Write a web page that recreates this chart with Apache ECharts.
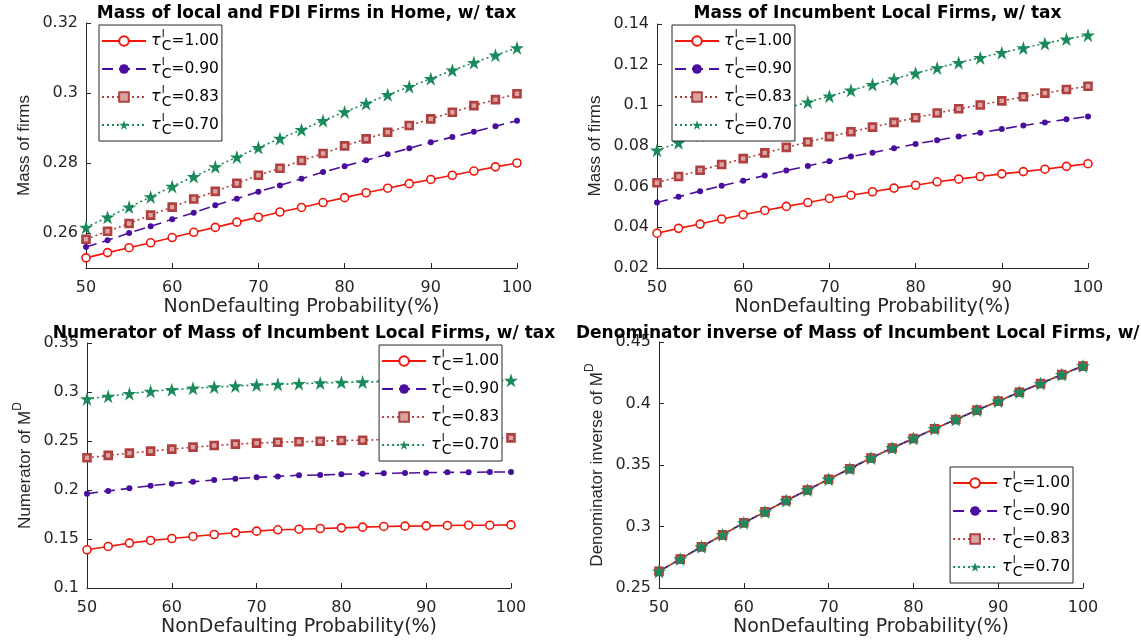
<!DOCTYPE html>
<html>
<head>
<meta charset="utf-8">
<script src="https://cdn.jsdelivr.net/npm/echarts@6/dist/echarts.min.js"></script>
<style>html,body{margin:0;padding:0;background:#fff;}#c{width:1141px;height:642px;}</style>
</head>
<body>
<div id="c"></div>
<script>
// ---------------- data ----------------
const xs = [50, 52.5, 55, 57.5, 60, 62.5, 65, 67.5, 70, 72.5, 75, 77.5, 80, 82.5, 85, 87.5, 90, 92.5, 95, 97.5, 100];
const tauLabels = ['1.00', '0.90', '0.83', '0.70'];

// Panel 1: Mass of local and FDI Firms in Home, w/ tax
const homeTau100 = [0.2529, 0.2544, 0.2558, 0.2572, 0.2587, 0.2602, 0.2616, 0.2631, 0.2645, 0.2660, 0.2673, 0.2687, 0.2701, 0.2715, 0.2728, 0.2741, 0.2753, 0.2765, 0.2777, 0.2789, 0.2800];
const homeTau090 = [0.2560, 0.2579, 0.2600, 0.2619, 0.2639, 0.2658, 0.2679, 0.2698, 0.2718, 0.2736, 0.2755, 0.2774, 0.2791, 0.2808, 0.2825, 0.2842, 0.2859, 0.2874, 0.2889, 0.2905, 0.2921];
const homeTau083 = [0.2582, 0.2605, 0.2627, 0.2651, 0.2674, 0.2697, 0.2719, 0.2742, 0.2765, 0.2785, 0.2807, 0.2827, 0.2849, 0.2869, 0.2888, 0.2907, 0.2926, 0.2945, 0.2964, 0.2981, 0.2998];
const homeTau070 = [0.2616, 0.2645, 0.2674, 0.2703, 0.2733, 0.2761, 0.2789, 0.2817, 0.2844, 0.2870, 0.2895, 0.2921, 0.2946, 0.2970, 0.2995, 0.3018, 0.3041, 0.3065, 0.3087, 0.3108, 0.3129];

// Panel 2: Mass of Incumbent Local Firms, w/ tax
const localTau100 = [0.0371, 0.0395, 0.0416, 0.0441, 0.0462, 0.0483, 0.0503, 0.0522, 0.0542, 0.0558, 0.0575, 0.0593, 0.0607, 0.0624, 0.0637, 0.0650, 0.0663, 0.0674, 0.0686, 0.0700, 0.0713];
const localTau090 = [0.0522, 0.0550, 0.0578, 0.0604, 0.0629, 0.0655, 0.0679, 0.0702, 0.0725, 0.0748, 0.0767, 0.0789, 0.0810, 0.0828, 0.0847, 0.0865, 0.0883, 0.0901, 0.0916, 0.0931, 0.0945];
const localTau083 = [0.0619, 0.0650, 0.0681, 0.0709, 0.0738, 0.0766, 0.0793, 0.0820, 0.0846, 0.0870, 0.0893, 0.0916, 0.0939, 0.0962, 0.0983, 0.1002, 0.1022, 0.1042, 0.1060, 0.1078, 0.1094];
const localTau070 = [0.0779, 0.0816, 0.0853, 0.0888, 0.0922, 0.0955, 0.0986, 0.1016, 0.1045, 0.1074, 0.1102, 0.1130, 0.1158, 0.1184, 0.1210, 0.1234, 0.1259, 0.1282, 0.1304, 0.1326, 0.1345];

// Panel 3: Numerator of Mass of Incumbent Local Firms, w/ tax
const numTau100 = [0.1390, 0.1424, 0.1458, 0.1485, 0.1505, 0.1526, 0.1546, 0.1563, 0.1580, 0.1594, 0.1600, 0.1607, 0.1614, 0.1621, 0.1628, 0.1631, 0.1634, 0.1638, 0.1641, 0.1641, 0.1644];
const numTau090 = [0.1963, 0.1990, 0.2017, 0.2044, 0.2065, 0.2085, 0.2102, 0.2116, 0.2129, 0.2139, 0.2150, 0.2153, 0.2160, 0.2167, 0.2170, 0.2173, 0.2177, 0.2180, 0.2180, 0.2184, 0.2184];
const numTau083 = [0.2329, 0.2353, 0.2376, 0.2397, 0.2417, 0.2437, 0.2454, 0.2468, 0.2478, 0.2488, 0.2492, 0.2498, 0.2505, 0.2508, 0.2515, 0.2518, 0.2521, 0.2524, 0.2527, 0.2529, 0.2532];
const numTau070 = [0.2929, 0.2956, 0.2983, 0.3007, 0.3024, 0.3038, 0.3051, 0.3061, 0.3071, 0.3078, 0.3085, 0.3092, 0.3099, 0.3102, 0.3105, 0.3108, 0.3110, 0.3112, 0.3114, 0.3116, 0.3119];

// Panel 4: Denominator inverse (all four tau values overlap)
const denTau100 = [0.2635, 0.2735, 0.2835, 0.2932, 0.3030, 0.3119, 0.3211, 0.3297, 0.3384, 0.3470, 0.3557, 0.3638, 0.3716, 0.3795, 0.3870, 0.3946, 0.4019, 0.4092, 0.4162, 0.4235, 0.4305];
const denTau090 = [0.2635, 0.2735, 0.2835, 0.2932, 0.3030, 0.3119, 0.3211, 0.3297, 0.3384, 0.3470, 0.3557, 0.3638, 0.3716, 0.3795, 0.3870, 0.3946, 0.4019, 0.4092, 0.4162, 0.4235, 0.4305];
const denTau083 = [0.2635, 0.2735, 0.2835, 0.2932, 0.3030, 0.3119, 0.3211, 0.3297, 0.3384, 0.3470, 0.3557, 0.3638, 0.3716, 0.3795, 0.3870, 0.3946, 0.4019, 0.4092, 0.4162, 0.4235, 0.4305];
const denTau070 = [0.2635, 0.2735, 0.2835, 0.2932, 0.3030, 0.3119, 0.3211, 0.3297, 0.3384, 0.3470, 0.3557, 0.3638, 0.3716, 0.3795, 0.3870, 0.3946, 0.4019, 0.4092, 0.4162, 0.4235, 0.4305];

const titles = [
  'Mass of local and FDI Firms in Home, w/ tax',
  'Mass of Incumbent Local Firms, w/ tax',
  'Numerator of Mass of Incumbent Local Firms, w/ tax',
  'Denominator inverse of Mass of Incumbent Local Firms, w/ tax'
];
const yNames = ['{n|Mass of firms}', '{n|Mass of firms}', '{n|Numerator of M}{sup|D}', '{n|Denominator inverse of M}{sup|D}'];
const xName = 'NonDefaulting Probability(%)';
const yTicks1 = [0.26, 0.28, 0.30, 0.32];

// ---------------- styling ----------------
const AX = '#262626';
const colors = ['#F0160A', '#4A0E9C', '#B0403F', '#1B8A5B'];
const fills = ['#fff', '#4A0E9C', '#D9A5A3', '#1B8A5B'];
const lineTypes = ['solid', [11, 6], [2, 3], [2, 3]];
const STAR = 'path://M50,0 L61.8,35.3 L100,35.3 L69.1,57.1 L80.9,92.7 L50,70.5 L19.1,92.7 L30.9,57.1 L0,35.3 L38.2,35.3 Z';
const symbols = ['circle', 'circle', 'rect', STAR];
const symbolSizes = [8, 6, 7, 14];
const borderWidths = [1.6, 0, 2.6, 0];
const seriesNames = tauLabels.map(t => 'tau=' + t);

const grids = [
  {left: 86, top: 23, width: 431, height: 245},
  {left: 657, top: 24, width: 431, height: 244},
  {left: 87, top: 343, width: 424, height: 245},
  {left: 659, top: 342, width: 424, height: 246}
];
const yRanges = [
  {min: 0.25, max: 0.32, interval: 0.01},
  {min: 0.02, max: 0.14, interval: 0.02},
  {min: 0.10, max: 0.35, interval: 0.05},
  {min: 0.25, max: 0.45, interval: 0.05}
];
const panelData = [
  [homeTau100, homeTau090, homeTau083, homeTau070],
  [localTau100, localTau090, localTau083, localTau070],
  [numTau100, numTau090, numTau083, numTau070],
  [denTau100, denTau090, denTau083, denTau070]
];
const legendPos = [
  {left: 99, top: 25},
  {left: 672, top: 25},
  {right: 639, top: 345},
  {right: 68, top: 467}
];

const xAxes = grids.map((g, i) => ({
  type: 'value', gridIndex: i, min: 50, max: 100, interval: 10,
  name: xName, nameLocation: 'middle', nameGap: 30,
  nameTextStyle: {fontFamily: 'DejaVu Sans', fontSize: 19, color: AX},
  axisLine: {onZero: false, lineStyle: {color: AX, width: 1}},
  axisTick: {inside: true, length: 5, lineStyle: {color: AX}},
  axisLabel: {fontFamily: 'DejaVu Sans', fontSize: 16, color: AX, margin: 12},
  splitLine: {show: false}
}));

const yAxes = grids.map((g, i) => {
  const a = {
    type: 'value', gridIndex: i, min: yRanges[i].min, max: yRanges[i].max, interval: yRanges[i].interval,
    name: yNames[i], nameLocation: 'middle', nameGap: 53, nameRotate: 90,
    nameTextStyle: {fontFamily: 'Liberation Sans', fontSize: 17, color: AX, lineHeight: 22,
      rich: {
        n: {fontFamily: 'Liberation Sans', fontSize: 17, color: AX, lineHeight: 22, verticalAlign: 'bottom'},
        sup: {fontFamily: 'Liberation Sans', fontSize: 12, color: AX, verticalAlign: 'top', lineHeight: 22}
      }},
    axisLine: {onZero: false, lineStyle: {color: AX, width: 1}},
    axisTick: {inside: true, length: 5, lineStyle: {color: AX}},
    axisLabel: {fontFamily: 'DejaVu Sans', fontSize: 16, color: AX, margin: 8},
    splitLine: {show: false}
  };
  if (i === 0) {
    a.axisLabel.customValues = yTicks1;
    a.axisTick.customValues = yTicks1;
  }
  return a;
});

const series = [];
panelData.forEach((arrs, p) => {
  arrs.forEach((vals, k) => {
    series.push({
      type: 'line', name: seriesNames[k], xAxisIndex: p, yAxisIndex: p,
      data: xs.map((x, j) => [x, vals[j]]),
      symbol: symbols[k], symbolSize: symbolSizes[k], showSymbol: true,
      lineStyle: {color: colors[k], width: 1.6, type: lineTypes[k]},
      itemStyle: {color: fills[k], borderColor: colors[k], borderWidth: borderWidths[k]},
      emphasis: {disabled: true}, z: 2 + k, animation: false, clip: false
    });
  });
});

const legendRich = {
  t: {fontFamily: 'DejaVu Sans', fontStyle: 'italic', fontSize: 16, color: '#000', verticalAlign: 'middle', lineHeight: 24},
  s: {fontFamily: 'DejaVu Sans', fontSize: 10, color: '#000', width: 0, verticalAlign: 'top', lineHeight: 24, padding: [0, 0, 0, 1]},
  c: {fontFamily: 'DejaVu Sans', fontSize: 14, color: '#000', verticalAlign: 'bottom', lineHeight: 24},
  v: {fontFamily: 'DejaVu Sans', fontSize: 15.5, color: '#000', verticalAlign: 'middle', lineHeight: 24}
};

const legends = legendPos.map(pos => Object.assign({
  orient: 'vertical', data: seriesNames, selectedMode: false,
  itemWidth: 44, itemHeight: 12, itemGap: 4,
  padding: [4, 3, 4, 2], borderColor: AX, borderWidth: 1, backgroundColor: '#fff',
  formatter: name => '{t|τ}{s|I}{c|C}{v|=' + name.slice(4) + '}',
  textStyle: {rich: legendRich}, z: 10
}, pos));

const titleCfg = grids.map((g, i) => ({
  text: titles[i], left: g.left + g.width / 2, top: i < 2 ? 0 : 320, textAlign: 'center',
  textStyle: {fontFamily: 'DejaVu Sans', fontWeight: 'bold', fontSize: 17, color: '#000'}
}));

const chart = echarts.init(document.getElementById('c'), null, {renderer: 'canvas'});
chart.setOption({
  animation: false,
  backgroundColor: '#fff',
  title: titleCfg,
  grid: grids,
  xAxis: xAxes,
  yAxis: yAxes,
  legend: legends,
  series: series
});
</script>
</body>
</html>
